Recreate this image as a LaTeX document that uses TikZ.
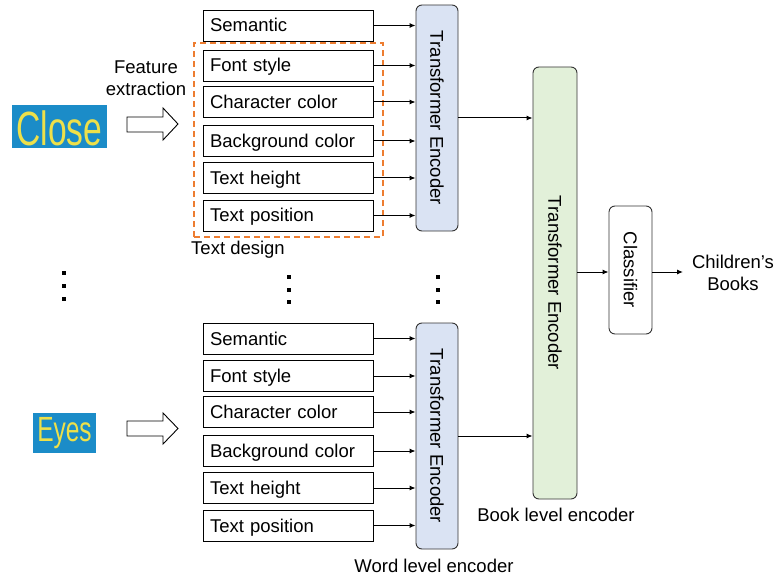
\documentclass[tikz,border=0pt]{standalone}
\usepackage{fontspec}
\setmainfont{Liberation Sans}
\usetikzlibrary{arrows.meta}
\definecolor{encblue}{HTML}{DAE3F3}
\definecolor{encgreen}{HTML}{E2F0D9}
\definecolor{dashorange}{HTML}{ED7D31}
\definecolor{imgblue}{HTML}{1B8CC8}
\definecolor{imgyellow}{HTML}{EEE04A}
\tikzset{
  lbl/.style={font=\fontsize{18.5}{22}\selectfont, inner sep=0pt, align=center},
  featbox/.style={draw, line width=0.9pt, minimum height=31pt, text width=156pt, text height=15pt, text depth=2pt, inner xsep=7pt, inner ysep=0pt, align=left, font=\fontsize{18.5}{22}\selectfont},
  encbox/.style={draw=black!80, line width=0.9pt, rounded corners=6pt, fill=encblue, minimum width=42pt, minimum height=226pt, inner sep=0pt},
  bookbox/.style={draw=black!80, line width=0.9pt, rounded corners=6pt, fill=encgreen, minimum width=44pt, minimum height=432pt, inner sep=0pt},
  clsbox/.style={draw=black!80, line width=0.9pt, rounded corners=6pt, fill=white, minimum width=43pt, minimum height=128pt, inner sep=0pt},
  vtext/.style={rotate=-90, font=\fontsize{18.5}{22}\selectfont, inner sep=0pt},
  arr/.style={line width=1pt, -{Latex[length=6pt,width=5pt]}},
  dashbox/.style={draw=dashorange, line width=1.4pt, dash pattern=on 6pt off 4pt, minimum width=189pt, minimum height=194pt, inner sep=0pt},
  imgbox/.style={fill=imgblue, inner sep=0pt},
  blockarrow/.style={draw, line width=0.9pt, fill=white},
  dotsq/.style={fill=black}
}
\begin{document}
\begin{tikzpicture}[x=1pt,y=-1pt]
\useasboundingbox (0,0) rectangle (776,580);

% word images
\node[imgbox, minimum width=95pt, minimum height=43pt] (close) at (59.5,126.5) {};
\node[text=imgyellow, font=\fontsize{48}{48}\selectfont, xscale=0.7, inner sep=0pt] at (59.5,128) {Close};
\node[imgbox, minimum width=63pt, minimum height=40pt] (eyes) at (64.5,433) {};
\node[text=imgyellow, font=\fontsize{35}{35}\selectfont, xscale=0.7, inner sep=0pt] at (64.5,433) {Eyes};

% block arrows
\draw[blockarrow] (127,117) -- (163,117) -- (163,108) -- (178,124) -- (163,140) -- (163,132) -- (127,132) -- cycle;
\draw[blockarrow] (127,421) -- (163,421) -- (163,413) -- (178,428.5) -- (163,444) -- (163,436) -- (127,436) -- cycle;

\node[lbl] (featext) at (146,78) {Feature\\extraction};

% text design dashed box
\node[dashbox] (design) at (288.5,140) {};
\node[lbl] (designlbl) at (238,250) {Text design};

% top feature boxes
\node[featbox] (s1) at (288,25.5) {Semantic};
\node[featbox] (f1) at (288,65.5) {Font style};
\node[featbox] (c1) at (288,102) {Character color};
\node[featbox] (b1) at (288,141) {Background color};
\node[featbox] (h1) at (288,178) {Text height};
\node[featbox] (p1) at (288,215.5) {Text position};

% bottom feature boxes
\node[featbox] (s2) at (288,338.5) {Semantic};
\node[featbox] (f2) at (288,376) {Font style};
\node[featbox] (c2) at (288,412) {Character color};
\node[featbox] (b2) at (288,451) {Background color};
\node[featbox] (h2) at (288,488) {Text height};
\node[featbox] (p2) at (288,525.5) {Text position};

% word encoders
\node[encbox] (enc1) at (437,118) {};
\node[vtext] at (enc1.center) {Transformer Encoder};
\node[encbox] (enc2) at (437,436) {};
\node[vtext] at (enc2.center) {Transformer Encoder};
\node[lbl] (wordlbl) at (434,566) {Word level encoder};

% book encoder
\node[bookbox] (book) at (555,283) {};
\node[vtext] at (book.center) {Transformer Encoder};
\node[lbl] (booklbl) at (556,515) {Book level encoder};

% classifier
\node[clsbox] (cls) at (630.5,270) {};
\node[vtext] at (cls.center) {Classifier};
\coordinate (outend) at (683,272);
\node[lbl] (out) at (733,273) {Children’s\\Books};

% arrows
\foreach \n in {s1,f1,c1,b1,h1,p1}{\draw[arr] (\n.east) -- (\n.east -| enc1.west);}
\foreach \n in {s2,f2,c2,b2,h2,p2}{\draw[arr] (\n.east) -- (\n.east -| enc2.west);}
\draw[arr] (enc1.east) -- (enc1.east -| book.west);
\draw[arr] (enc2.east) -- (enc2.east -| book.west);
\draw[arr] (book.east |- 0,272) -- (cls.west |- 0,272);
\draw[arr] (cls.east |- 0,272) -- (outend);

% vertical dots
\foreach \x/\y in {64/273,64/286,64/299,289/277,289/290,289/302,438/277,438/290,438/302}{
  \fill[dotsq] (\x-1.6,\y-1.6) rectangle (\x+1.6,\y+1.6);
}
\end{tikzpicture}
\end{document}
